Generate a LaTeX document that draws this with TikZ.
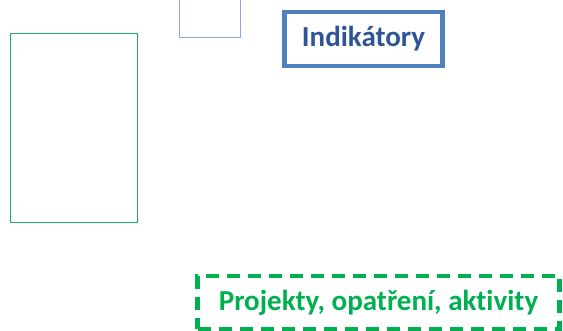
\documentclass[tikz,border=0pt]{standalone}
\usepackage{fontspec}
\setmainfont[Ligatures=NoCommon]{Carlito}
\definecolor{boxgreen}{HTML}{00B050}
\definecolor{thingreen}{HTML}{22B060}
\definecolor{lightblue}{HTML}{8EA9D0}
\definecolor{midblue}{HTML}{4F81BD}
\definecolor{textblue}{HTML}{2F5597}
\tikzset{
  plainbox/.style={draw, rectangle, inner sep=0pt},
}
\begin{document}
\begin{tikzpicture}[x=1pt,y=-1pt]
\useasboundingbox (0,0) rectangle (563,331);
\node[plainbox, draw=thingreen, line width=1pt, minimum width=127pt, minimum height=189pt] (green) at (73.5,128.5) {};
\node[plainbox, draw=lightblue, line width=1pt, minimum width=61pt, minimum height=60pt] (blue) at (209.5,8) {};
\node[plainbox, draw=midblue, line width=4.5pt, minimum width=158pt, minimum height=54pt, text=textblue, font=\fontsize{29}{32}\selectfont\bfseries] (ind) at (363.5,39) {Indikátory};
\node[plainbox, draw=boxgreen, line width=4.5pt, dash pattern=on 13pt off 8pt, minimum width=362pt, minimum height=53pt, text=boxgreen, font=\fontsize{29}{32}\selectfont\bfseries] (proj) at (378.5,302.5) {Projekty, opatření, aktivity};
\end{tikzpicture}
\end{document}
